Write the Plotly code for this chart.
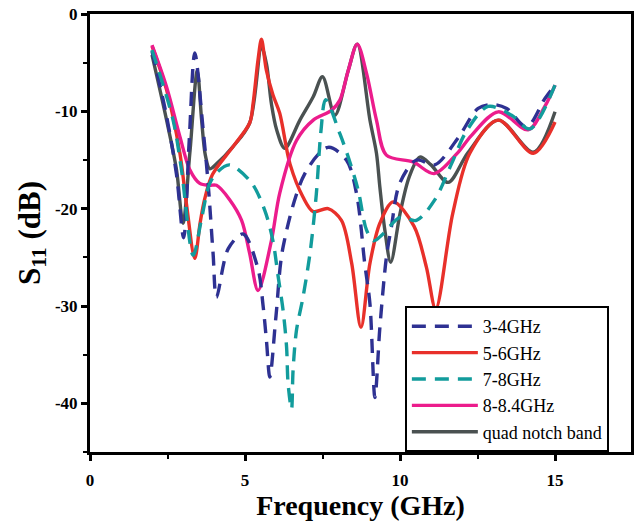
import plotly.graph_objects as go

# ---- data ----
x_34 = [2.0, 2.47, 2.79, 3.02, 3.2, 3.38, 3.65, 3.81, 3.97, 4.08, 4.46, 4.94, 5.42, 5.58, 5.69, 5.8, 6.0, 6.23, 6.93, 7.68, 8.27, 8.6, 8.86, 9.03, 9.19, 9.35, 9.56, 9.72, 9.99, 10.53, 11.12, 11.88, 12.52, 13.0, 13.44, 14.08, 14.67, 15.0]
y_34 = [-3.8, -10.5, -16.5, -23.0, -13.0, -4.0, -11.9, -17.4, -24.6, -29.1, -24.1, -22.6, -26.2, -29.9, -33.5, -37.3, -31.0, -23.9, -16.4, -13.7, -15.0, -18.5, -25.6, -29.8, -39.4, -32.2, -25.0, -21.9, -17.4, -15.0, -15.5, -12.7, -9.7, -9.3, -9.7, -11.6, -8.7, -7.3]

x_56 = [2.0, 2.47, 2.9, 3.11, 3.38, 3.55, 3.7, 3.95, 4.62, 5.15, 5.26, 5.42, 5.53, 5.69, 5.9, 6.12, 6.45, 6.87, 7.2, 7.68, 8.11, 8.44, 8.74, 9.03, 9.35, 9.78, 10.45, 10.85, 11.15, 11.7, 12.25, 13.17, 14.3, 15.0]
y_56 = [-3.3, -7.8, -14.3, -19.5, -25.1, -21.5, -19.0, -16.5, -13.6, -11.2, -9.2, -4.7, -2.6, -5.8, -8.3, -10.2, -15.4, -18.8, -20.3, -20.0, -21.2, -25.6, -32.2, -25.6, -21.5, -19.3, -21.8, -26.0, -30.3, -20.5, -14.3, -10.9, -14.3, -11.1]

x_78 = [2.0, 2.68, 2.95, 3.33, 3.6, 3.85, 4.12, 4.5, 5.2, 5.64, 5.9, 6.07, 6.23, 6.34, 6.39, 6.5, 6.55, 6.66, 6.87, 7.1, 7.3, 7.45, 7.6, 8.06, 8.33, 8.65, 8.92, 9.15, 9.45, 10.0, 10.53, 11.12, 11.66, 12.15, 12.84, 13.6, 14.19, 15.0]
y_78 = [-3.7, -10.9, -16.0, -24.8, -21.0, -17.5, -16.2, -15.5, -17.3, -20.2, -23.3, -27.0, -30.5, -34.2, -38.0, -40.6, -36.6, -32.5, -29.1, -24.5, -18.5, -12.0, -8.8, -12.3, -14.7, -18.1, -22.2, -23.3, -22.6, -20.9, -21.2, -19.1, -15.4, -12.0, -9.5, -10.4, -11.8, -7.3]

x_884 = [2.0, 2.47, 2.9, 3.22, 3.54, 3.85, 4.08, 4.51, 4.89, 5.15, 5.42, 5.85, 6.12, 6.66, 7.2, 7.79, 8.06, 8.33, 8.62, 8.92, 9.24, 9.56, 10.42, 11.1, 11.85, 12.3, 13.17, 14.13, 14.67, 15.0]
y_884 = [-3.2, -7.5, -12.6, -16.0, -17.4, -17.6, -17.6, -19.1, -21.2, -24.6, -28.4, -23.3, -18.4, -13.0, -10.9, -9.9, -8.85, -5.8, -3.1, -6.1, -10.9, -14.5, -15.2, -16.4, -14.3, -12.5, -10.05, -11.9, -9.5, -7.3]

x_quad = [2.0, 2.47, 2.79, 3.0, 3.22, 3.46, 3.6, 3.72, 3.86, 4.08, 4.62, 5.15, 5.53, 5.69, 5.85, 6.02, 6.28, 6.77, 7.2, 7.5, 7.9, 8.33, 8.62, 9.03, 9.24, 9.35, 9.51, 9.7, 10.0, 10.3, 10.64, 11.0, 11.55, 12.2, 13.17, 14.3, 15.0]
y_quad = [-4.2, -10.9, -16.0, -21.5, -14.3, -5.8, -10.9, -14.5, -15.9, -15.4, -13.6, -11.2, -3.4, -5.1, -9.2, -11.9, -13.8, -10.9, -8.5, -6.45, -10.4, -5.8, -3.1, -10.9, -14.3, -17.8, -22.2, -25.5, -20.5, -16.7, -14.7, -15.5, -17.3, -14.2, -10.9, -14.2, -10.05]

names = ["3-4GHz", "5-6GHz", "7-8GHz", "8-8.4GHz", "quad notch band"]
colors = ["#2E3192", "#E8302A", "#129C9C", "#EC1C8C", "#4A5151"]
dashes = ["14px,9px", "solid", "14px,9px", "solid", "solid"]
xs = [x_34, x_56, x_78, x_884, x_quad]
ys = [y_34, y_56, y_78, y_884, y_quad]

x_ticks = [0, 5, 10, 15]
y_ticks = [0, -10, -20, -30, -40]

fig = go.Figure()
draw_order = [4, 1, 3, 0, 2]
for i in draw_order:
    fig.add_trace(go.Scatter(
        x=xs[i], y=ys[i], mode="lines", name=names[i],
        line=dict(color=colors[i], width=3.4, dash=dashes[i], shape="spline", smoothing=0.9),
        legendrank=i + 1,
    ))

fig.update_layout(
    width=644, height=521,
    margin=dict(l=90, r=13, t=14, b=69),
    paper_bgcolor="white", plot_bgcolor="white",
    showlegend=True,
    legend=dict(
        x=0.582, y=0.0, xanchor="left", yanchor="bottom",
        bgcolor="white", bordercolor="black", borderwidth=2,
        font=dict(family="Liberation Serif", size=18, color="black"),
        tracegroupgap=0, itemwidth=66,
    ),
    xaxis=dict(
        range=[0, 17.45], tickvals=x_ticks, ticktext=[str(v) for v in x_ticks],
        showgrid=False, zeroline=False, automargin=False,
        showline=True, linecolor="black", linewidth=3, mirror=True,
        ticks="outside", ticklen=6, tickwidth=2.5, tickcolor="black",
        minor=dict(dtick=2.5, tick0=0, ticks="outside", ticklen=4, tickwidth=2, tickcolor="black"),
        tickfont=dict(family="Liberation Serif", size=17, color="black", weight="bold"),
        ticklabelstandoff=5,
        title=dict(text="<b>Frequency (GHz)</b>", font=dict(family="Liberation Serif", size=28, color="black"), standoff=6),
    ),
    yaxis=dict(
        range=[-45, 0], tickvals=y_ticks, ticktext=[str(v) for v in y_ticks],
        showgrid=False, zeroline=False, automargin=False,
        showline=True, linecolor="black", linewidth=3, mirror=True,
        ticks="outside", ticklen=6, tickwidth=2.5, tickcolor="black",
        minor=dict(dtick=5, tick0=0, ticks="outside", ticklen=4, tickwidth=2, tickcolor="black"),
        tickfont=dict(family="Liberation Serif", size=17, color="black", weight="bold"),
        title=dict(text="<b>S<sub>11</sub> (dB)</b>", font=dict(family="Liberation Serif", size=31, color="black"), standoff=6),
    ),
)

fig.write_html("out.html")
